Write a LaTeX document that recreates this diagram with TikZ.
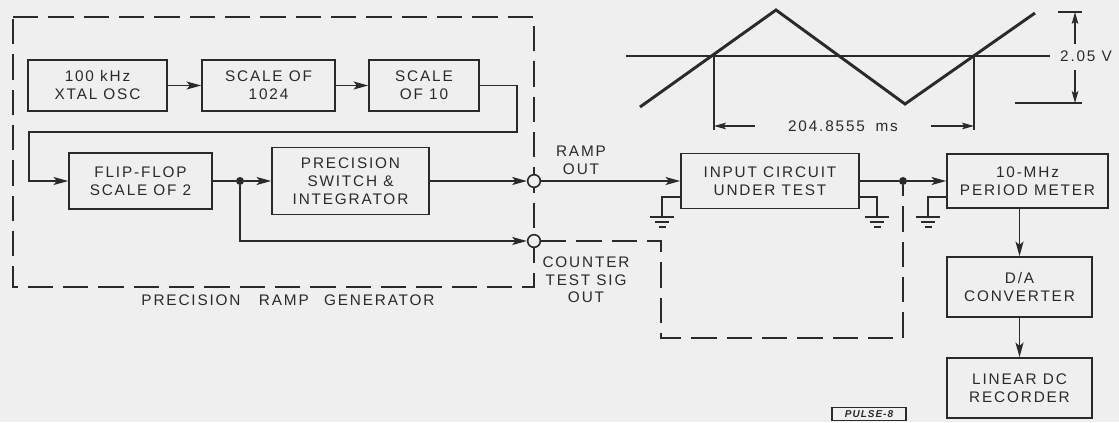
\documentclass[tikz,border=0pt]{standalone}
\usepackage{fontspec}
\setmainfont{Liberation Sans}[LetterSpace=12]
\newfontfamily\tagfont{Liberation Sans}[LetterSpace=10]
\usetikzlibrary{arrows.meta}
\definecolor{ink}{HTML}{2A2A2A}
\definecolor{paper}{HTML}{EFEFEF}
\newcommand\lett{\fontsize{11.5}{13.5}\selectfont}
\tikzset{
  box/.style={draw=ink, line width=1.2pt, align=center, inner sep=0pt, font=\lett, text=ink},
  lbl/.style={align=center, inner sep=0pt, font=\lett, text=ink},
  conn/.style={draw=ink, line width=1.2pt},
  arr/.style={conn, -{Stealth[length=11pt,width=6pt,inset=2.5pt]}},
  thinarr/.style={draw=ink, line width=0.9pt, -{Stealth[length=9pt,width=5pt,inset=2pt]}},
  dsh/.style={draw=ink, line width=1.2pt, dash pattern=on 19pt off 7.5pt},
  port/.style={circle, draw=ink, fill=paper, line width=1.2pt, minimum size=9.5pt, inner sep=0pt},
  jdot/.style={circle, fill=ink, minimum size=6pt, inner sep=0pt},
  wave/.style={draw=ink, line width=2.2pt, line join=miter},
  pics/groundsym/.style={code={\draw[conn] (-12,0)--(12,0) (-7,5)--(7,5) (-3.5,10)--(3.5,10);}}
}
\begin{document}
\begin{tikzpicture}[x=0.75pt,y=-0.75pt]
\useasboundingbox (0,0) rectangle (1119,422);
\fill[paper] (0,0) rectangle (1119,422);

% waveform
\draw[wave] (640,107) -- (776,10) -- (905,104) -- (1035,13);
\draw[conn, line width=0.9pt] (626,56) -- (1050,56);
\draw[conn, line width=0.9pt] (1058,12) -- (1082,12);
\draw[conn, line width=0.9pt] (1015,103) -- (1082,103);
\draw[thinarr] (1075,44) -- (1075,12);
\draw[thinarr] (1075,70) -- (1075,103);
\node[lbl] (volt) at (1086,56) {2.05 V};
\draw[conn, line width=0.9pt] (714,56) -- (714,130);
\draw[conn, line width=0.9pt] (974,56) -- (974,130);
\draw[thinarr] (755,126) -- (714,126);
\draw[thinarr] (931,126) -- (974,126);
\node[lbl] (per) at (843,126) {204.8555\hspace{0.7em}ms};

% outer dashed generator box
\draw[dsh] (13,17) -- (534,17) -- (534,287) -- (13,287) -- cycle;
\node[lbl] (gen) at (288,300) {PRECISION\hspace{1.2em}RAMP\hspace{1em}GENERATOR};

% blocks
\node[box, minimum width=104.25pt, minimum height=38.25pt] (osc) at (97.5,85.5) {100 kHz\\XTAL OSC};
\node[box, minimum width=99.75pt, minimum height=38.25pt] (s1024) at (268.5,85.5) {SCALE OF\\1024};
\node[box, minimum width=82.5pt, minimum height=38.25pt] (s10) at (424,85.5) {SCALE\\OF 10};
\node[box, minimum width=107.25pt, minimum height=42pt] (ff) at (140.5,181) {FLIP-FLOP\\SCALE OF 2};
\node[box, minimum width=117.75pt, minimum height=50.25pt] (psi) at (350.5,181) {PRECISION\\SWITCH \&\\INTEGRATOR};
\node[box, minimum width=133.5pt, minimum height=41.25pt] (inp) at (770,181) {INPUT CIRCUIT\\UNDER TEST};
\node[box, minimum width=120.75pt, minimum height=40.5pt] (pm) at (1027.5,181) {10-MHz\\PERIOD METER};
\node[box, minimum width=108.75pt, minimum height=45pt] (da) at (1019.5,287) {D/A\\CONVERTER};
\node[box, minimum width=108.75pt, minimum height=45pt] (rec) at (1019.5,388) {LINEAR DC\\RECORDER};

% ports and junctions
\node[port] (rampc) at (534,181) {};
\node[port] (cntc) at (534,241) {};
\node[jdot] (j1) at (240,181) {};
\node[jdot] (j2) at (903,181) {};
\node[lbl] (ramplbl) at (581,160) {RAMP\\OUT};
\node[lbl, font=\fontsize{11.5}{13}\selectfont] (cntlbl) at (586,280) {COUNTER\\TEST SIG\\OUT};

% coordinates
\coordinate (c1) at (517,132);
\coordinate (c2) at (29,132);
\coordinate (d1) at (661,241);
\coordinate (d2) at (661,338);
\coordinate (d3) at (903,338);
\coordinate (g1) at (662,217);
\coordinate (g2) at (877,217);
\coordinate (g3) at (928,217);
\coordinate (w1) at (0,197);

% connectors
\draw[arr] (osc) -- (s1024);
\draw[arr] (s1024) -- (s10);
\draw[arr] (s10.east) -| (c1) -- (c2) |- (ff.west);
\draw[conn] (ff.east) -- (j1);
\draw[arr] (j1) -- (psi.west);
\draw[arr] (psi.east) -- (rampc.west);
\draw[arr] (j1) |- (cntc.west);
\draw[arr] (rampc.east) -- (rampc.east -| inp.west);
\draw[conn] (inp.east) -- (j2);
\draw[arr] (j2) -- (pm.west);
\draw[arr] (pm.south -| da.north) -- (da.north);
\draw[arr] (da) -- (rec);
\draw[dsh] (cntc.east) -- (d1) -- (d2) -- (d3) -- (j2);

% grounds
\draw[conn] (inp.west |- w1) -| (g1);
\draw[conn] (inp.east |- w1) -| (g2);
\draw[conn] (pm.west |- w1) -| (g3);
\pic at (g1) {groundsym};
\pic at (g2) {groundsym};
\pic at (g3) {groundsym};

% figure tag
\node[draw=ink, line width=0.9pt, minimum width=55.5pt, minimum height=9.5pt, inner sep=0pt, font=\tagfont\bfseries\itshape\fontsize{7.5}{8}\selectfont, text=ink] (tag) at (869,414) {PULSE-8};
\end{tikzpicture}
\end{document}
